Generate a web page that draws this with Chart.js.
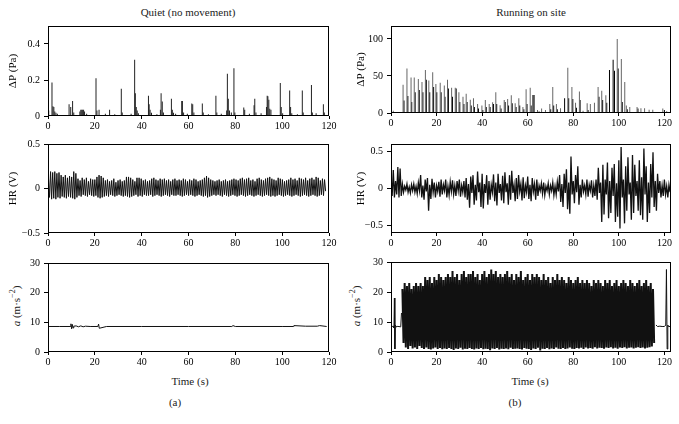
<!DOCTYPE html>
<html>
<head>
<meta charset="utf-8">
<script src="https://cdn.jsdelivr.net/npm/chart.js@4"></script>
<style>
  body { margin: 0; background: #fff; }
  #wrap { position: relative; width: 679px; height: 424px; font-family: 'Liberation Serif', serif; color: #222; }
  canvas { position: absolute; }
  .lbl { position: absolute; font-size: 11px; font-weight: normal; white-space: nowrap; transform: translate(-50%, -50%); }
  .rot { transform: translate(-50%, -50%) rotate(-90deg); }
</style>
</head>
<body>
<div id="wrap">
  <div class="lbl" style="left:188px;top:12px">Quiet (no movement)</div>
  <div class="lbl" style="left:531px;top:12px">Running on site</div>
  <div class="lbl" style="left:190px;top:381px">Time (s)</div>
  <div class="lbl" style="left:530px;top:381px">Time (s)</div>
  <div class="lbl" style="left:175px;top:402px">(a)</div>
  <div class="lbl" style="left:515px;top:402px">(b)</div>
  <div class="lbl rot" style="left:15px;top:306px"><i>a</i> (m·s<sup style="font-size:8px">−2</sup>)</div>
  <div class="lbl rot" style="left:355px;top:306px"><i>a</i> (m·s<sup style="font-size:8px">−2</sup>)</div>
  <canvas id="tl" style="left:0;top:16px" width="341" height="118"></canvas>
  <canvas id="ml" style="left:0;top:134px" width="341" height="117"></canvas>
  <canvas id="bl" style="left:0;top:253px" width="341" height="117"></canvas>
  <canvas id="tr" style="left:340px;top:16px" width="339" height="115"></canvas>
  <canvas id="mr" style="left:340px;top:134px" width="339" height="117"></canvas>
  <canvas id="br" style="left:340px;top:252px" width="339" height="118"></canvas>
</div>
<script>
// ---- Quiet (no movement): pressure spikes [time s, ΔP Pa]
const quietDpSpikes = [
  [0.3,0.03],[1.7,0.186],[2.1,0.054],[2.5,0.05],[2.9,0.025],[3.4,0.018],[4.0,0.012],
  [9.0,0.065],[9.7,0.05],[10.5,0.083],[11.0,0.02],[13.6,0.025],[14.0,0.035],[14.4,0.035],
  [14.8,0.035],[15.2,0.035],[15.6,0.025],[16.5,0.012],[20.5,0.21],[20.9,0.03],[21.8,0.035],
  [24.5,0.012],[26.3,0.035],[28.5,0.01],[31.3,0.152],[31.7,0.02],[35.5,0.012],[37.0,0.313],
  [37.3,0.127],[37.7,0.05],[38.1,0.03],[38.6,0.015],[42.9,0.112],[43.2,0.065],[43.6,0.035],
  [44.2,0.018],[46.5,0.01],[48.0,0.035],[48.3,0.127],[48.8,0.08],[49.3,0.02],[52.7,0.096],
  [53.1,0.035],[53.6,0.018],[54.5,0.012],[57.1,0.083],[57.4,0.083],[57.9,0.02],[59.5,0.012],
  [61.4,0.069],[61.8,0.065],[62.3,0.02],[65.9,0.069],[66.3,0.02],[68.5,0.01],[71.7,0.112],
  [72.1,0.02],[74.0,0.012],[76.3,0.03],[76.6,0.235],[77.0,0.096],[77.5,0.03],[78.3,0.02],
  [79.4,0.265],[79.8,0.02],[83.6,0.047],[84.0,0.035],[86.0,0.012],[88.0,0.06],[88.3,0.096],
  [88.8,0.02],[91.0,0.015],[93.3,0.05],[93.6,0.112],[93.9,0.11],[94.3,0.09],[94.7,0.04],
  [95.2,0.035],[99.2,0.183],[99.6,0.05],[100.2,0.015],[103.2,0.141],[103.6,0.05],[104.1,0.015],
  [106.5,0.01],[108.6,0.141],[109.0,0.02],[112.5,0.172],[112.9,0.02],[114.5,0.015],
  [117.6,0.065],[118.0,0.02]
];
// quiet heart signal: one peak and one trough per beat
const quietHrStart = 0.2, quietHrBeat = 0.9;
const quietHrPeaks = [
  0.12,0.19,0.18,0.19,0.17,0.18,0.15,0.13,0.15,0.12,0.14,0.13,0.19,0.17,
  0.11,0.09,0.12,0.10,0.12,0.08,0.11,0.10,0.10,0.13,0.15,0.14,0.12,
  0.09,0.10,0.08,0.09,0.11,0.07,0.09,0.10,0.08,0.09,0.13,0.13,0.12,
  0.10,0.08,0.12,0.12,0.11,0.09,0.10,0.08,0.09,0.11,0.12,0.10,0.09,0.11,
  0.10,0.11,0.09,0.10,0.08,0.10,0.11,0.09,0.10,0.09,0.11,0.10,0.08,
  0.10,0.09,0.11,0.10,0.08,0.09,0.10,0.12,0.14,0.12,0.10,0.09,0.08,
  0.09,0.10,0.08,0.09,0.10,0.08,0.09,0.10,0.11,0.10,0.09,0.11,0.12,
  0.10,0.11,0.12,0.09,0.10,0.08,0.11,0.12,0.10,0.09,0.11,0.12,0.13,
  0.11,0.10,0.09,0.12,0.11,0.10,0.08,0.09,0.10,0.12,0.10,0.11,0.09,
  0.12,0.11,0.10,0.12,0.09,0.11,0.12,0.10,0.13,0.12,0.09,0.11,0.10
];
const quietHrTroughs = [
  -0.10,-0.12,-0.11,-0.12,-0.10,-0.11,-0.09,-0.10,-0.11,-0.09,-0.10,-0.11,-0.12,-0.10,
  -0.08,-0.09,-0.07,-0.08,-0.09,-0.07,-0.08,-0.09,-0.08,-0.10,-0.11,-0.10,-0.09,
  -0.08,-0.09,-0.07,-0.08,-0.09,-0.08,-0.07,-0.08,-0.09,-0.08,-0.09,-0.10,-0.09,
  -0.08,-0.07,-0.09,-0.08,-0.09,-0.07,-0.08,-0.08,-0.07,-0.09,-0.08,-0.07,-0.08,-0.09,
  -0.08,-0.07,-0.08,-0.09,-0.07,-0.08,-0.08,-0.07,-0.08,-0.09,-0.08,-0.07,-0.08,
  -0.07,-0.08,-0.09,-0.08,-0.07,-0.08,-0.09,-0.08,-0.10,-0.09,-0.08,-0.07,-0.08,
  -0.07,-0.08,-0.09,-0.07,-0.08,-0.09,-0.08,-0.07,-0.08,-0.09,-0.08,-0.07,-0.08,
  -0.09,-0.08,-0.07,-0.08,-0.09,-0.08,-0.07,-0.08,-0.09,-0.08,-0.07,-0.08,-0.09,
  -0.08,-0.09,-0.08,-0.07,-0.08,-0.09,-0.08,-0.07,-0.08,-0.09,-0.08,-0.07,-0.08,
  -0.09,-0.08,-0.07,-0.08,-0.09,-0.08,-0.07,-0.08,-0.09,-0.08,-0.07,-0.08,-0.03
];
// quiet acceleration [time s, a]
const quietAcc = [
  [0,8.6],[5,8.6],[9.5,8.6],[9.8,9.5],[10.1,7.8],[10.4,9.3],[10.7,8.1],[11,8.7],[12,8.8],
  [13,8.5],[14,8.8],[15,8.5],[16,8.7],[18,8.6],[21.3,8.6],[21.6,9.4],[21.9,8.0],[25,8.6],
  [40,8.6],[60,8.6],[78.5,8.6],[79,8.9],[80,8.6],[100,8.6],[104.8,8.6],[105,8.9],[110,8.7],
  [115,8.7],[116,8.9],[119,8.6]
];

// ---- Running on site: pressure spikes [time s, ΔP Pa]
const runDpTall = [
  [1.0,3],[2.5,1.5],[5.3,38],[7.0,60],[8.8,48],[10.2,48],[12.0,46],[13.6,42],[15.1,58],[16.6,44],
  [18.3,55],[19.7,39],[21.6,41],[23.4,37],[24.8,45],[26.6,34],[28.2,34],[29.8,28],[31.6,22],
  [33.0,26],[34.8,18],[36.2,20],[38.0,12],[39.9,10],[41.4,17.5],[43.1,12],[44.6,14.5],[46.0,28],
  [47.9,10.5],[49.7,17.5],[51.2,19],[52.8,24],[54.5,13],[56.1,20],[57.9,8],[59.3,32],[61.1,34],
  [64.3,4],[66.1,6],[67.8,4],[69.7,12],[71.0,35],[72.6,12],[74.4,6.5],[77.6,61],[79.4,35],
  [81.0,14],[82.7,29],[84.3,3],[86.1,13],[87.5,12],[89.3,14],[90.9,35],[92.5,30],[94.3,24],
  [99.3,100],[101.1,73],[102.6,42],[103.3,10],[104.8,8],[108.0,8],[109.7,6.5],[111.3,6.5],
  [113.3,4.4],[114.9,4.4],[119.3,6]
];
const runDpShort = [
  [5.7,17],[7.4,23],[9.1,15],[10.6,28],[12.4,31],[14.0,28],[15.5,45],[17.0,28],[18.7,35],
  [20.1,28],[22.0,28],[23.7,22],[25.2,33],[27.0,22],[28.6,33],[30.2,15],[32.0,12],[33.4,15],
  [35.2,10],[36.6,8],[38.4,6],[40.3,4],[41.8,8],[43.5,8],[45.0,12],[46.4,12],[48.3,6],[50.1,15],
  [51.6,10],[53.2,13],[54.9,8],[56.5,10],[58.3,5],[59.7,12],[61.5,10],[62.3,24.4],[62.8,24.4],
  [65.0,2],[70.1,5],[71.4,10],[73.0,5],[76.2,20],[78.0,20],[79.8,19],[81.4,7],[83.0,17.5],
  [86.5,4],[91.3,22],[92.9,17.5],[94.7,14],[95.9,58],[97.5,72],[98.1,57],[99.7,60],[101.5,15],
  [103.7,5],[108.4,6],[120.0,4],[121.0,2]
];
// running heart signal, one peak/trough per second from t = 0
const runHrStart = 0, runHrStep = 1;
const runHrPeaks = [
  0.15,0.25,0.10,0.29,0.27,0.06,0.03,0.06,0.02,0.05,
  0.06,0.03,0.08,0.18,0.04,0.12,0.14,0.05,0.13,0.08,
  0.04,0.09,0.12,0.05,0.12,0.03,0.09,0.11,0.04,0.10,
  0.12,0.04,0.10,0.14,0.06,0.16,0.18,0.05,0.23,0.08,
  0.20,0.06,0.18,0.10,0.05,0.19,0.08,0.20,0.06,0.17,
  0.22,0.07,0.18,0.24,0.05,0.14,0.18,0.06,0.15,0.04,
  0.16,0.05,0.14,0.06,0.12,0.04,0.07,0.08,0.03,0.07,
  0.04,0.08,0.03,0.09,0.18,0.06,0.20,0.26,0.08,0.43,
  0.10,0.18,0.30,0.05,0.12,0.04,0.12,0.05,0.11,0.04,
  0.12,0.28,0.08,0.32,0.12,0.35,0.10,0.28,0.33,0.07,
  0.38,0.56,0.12,0.30,0.42,0.08,0.45,0.32,0.10,0.38,
  0.15,0.54,0.30,0.08,0.33,0.49,0.10,0.20,0.10,0.04,
  0.12,0.03,0.05
];
const runHrTroughs = [
  -0.10,-0.12,-0.08,-0.12,-0.10,-0.05,-0.02,-0.05,-0.06,-0.03,
  -0.05,-0.07,-0.03,-0.12,-0.15,-0.04,-0.30,-0.14,-0.05,-0.12,
  -0.04,-0.11,-0.08,-0.03,-0.12,-0.09,-0.04,-0.08,-0.10,-0.03,
  -0.11,-0.05,-0.12,-0.15,-0.26,-0.06,-0.22,-0.16,-0.05,-0.25,
  -0.27,-0.06,-0.22,-0.15,-0.05,-0.17,-0.23,-0.06,-0.16,-0.20,
  -0.05,-0.22,-0.15,-0.06,-0.17,-0.14,-0.04,-0.16,-0.13,-0.05,
  -0.14,-0.17,-0.04,-0.15,-0.10,-0.03,-0.07,-0.09,-0.03,-0.08,
  -0.03,-0.09,-0.08,-0.04,-0.18,-0.25,-0.06,-0.28,-0.34,-0.08,
  -0.20,-0.05,-0.22,-0.12,-0.04,-0.08,-0.11,-0.03,-0.12,-0.10,
  -0.15,-0.06,-0.45,-0.35,-0.08,-0.40,-0.33,-0.10,-0.45,-0.38,
  -0.54,-0.12,-0.47,-0.30,-0.08,-0.42,-0.33,-0.10,-0.30,-0.36,
  -0.42,-0.08,-0.45,-0.33,-0.12,-0.25,-0.30,-0.06,-0.12,-0.10,
  -0.08,-0.12,-0.05
];
// running acceleration: still before/after, stepping in between
const runAccPre = [
  [0,8.5],[0.5,8.5],[1.0,8.6],[1.3,8.0],[1.5,18],[1.7,1],[1.9,9],[2.2,8.4],[2.6,8.6],
  [3.0,8.5],[3.5,8.5],[4.0,8.4],[4.3,8.6],[4.6,13]
];
const runAccStart = 5, runAccStep = 1;
const runAccPeaks = [
  21,23,22,23,21,22,23,22,23,22,
  25,24,25,23,25,24,26,25,24,25,
  26,25,27,25,26,24,26,27,25,26,
  26,27,25,26,24,26,27,25,26,27.5,
  26,27,25,26,25,26,27,25,26,24,
  26,25,27,24,25,26,24,26,25,26,
  25,24,26,24,25,23,25,24,26,24,
  25,24,23,25,24,23,24,25,23,24,
  23,24,23,22,24,23,24,23,22,24,
  23,24,22,23,24,22,23,24,23,22,
  24,23,22,23,24,22,23,24,22,23,21
];
const runAccTroughs = [
  3,1.5,1,2,1.2,1.5,1,2,1.3,1,
  1.5,1,0.8,1.2,1.5,1,1.3,0.9,1.2,1,
  1.3,1,0.7,1.2,1,1.4,0.8,1.1,1,1.3,
  1,0.8,1.2,1,1.3,0.9,1.1,1,0.6,1.2,
  1,1.3,0.8,1.1,1,1.2,0.9,1.4,1,1.1,
  1.2,1,0.8,1.3,1.1,1,0.7,1.2,1,1.4,
  0.5,1.1,1,1.3,0.9,1.2,1,1.5,1.1,1,
  1.3,1,1.2,1.5,1.1,1,1.3,1.2,1.4,1,
  1.5,1.2,1.3,1.1,1.6,1.2,1.4,1.3,1.1,1.5,
  1.3,1.6,1.2,1.4,1.1,1.5,1.3,1.6,1.2,1.4,
  1.5,1.2,1.4,1.6,1.3,1.5,1.2,1.4,1.6,1.8,3
];
const runAccPost = [
  [116.3,9],[117,8.5],[118,8.6],[119,8.5],[120,8.5],[120.6,9],[120.9,27.5],[121.2,1],
  [121.5,9],[121.8,8.5],[122.5,8.5]
];

// ---- helpers
Chart.defaults.font.family = "'Liberation Serif', serif";
Chart.defaults.font.size = 10;
Chart.defaults.color = '#000';

const pts = arr => arr.map(p => ({x: p[0], y: p[1]}));
function zigzag(start, step, peaks, troughs) {
  const out = [];
  peaks.forEach((p, i) => {
    out.push({x: start + i * step, y: p});
    out.push({x: start + i * step + step / 2, y: troughs[i]});
  });
  return out;
}
const minus = v => String(v).replace('-', '\u2212');

const frame = {
  id: 'frame',
  afterDraw(c) {
    const a = c.chartArea, ctx = c.ctx;
    ctx.save();
    ctx.strokeStyle = '#000';
    ctx.lineWidth = 1;
    ctx.strokeRect(Math.round(a.left) + 0.5, Math.round(a.top) + 0.5,
      Math.round(a.right - a.left) - 1, Math.round(a.bottom - a.top) - 1);
    ctx.restore();
  }
};

function makeChart(id, type, datasets, o) {
  return new Chart(document.getElementById(id), {
    type: type,
    data: {datasets: datasets},
    plugins: [frame],
    options: {
      responsive: false, animation: false, events: [],
      layout: {padding: {top: 8, right: o.padRight, left: 0, bottom: 0}},
      plugins: {legend: {display: false}, tooltip: {enabled: false}},
      scales: {
        x: {
          type: 'linear', min: 0, max: o.xMax, offset: false,
          border: {display: false},
          grid: {drawOnChartArea: false, drawTicks: true, tickLength: 3, color: '#000', offset: false},
          ticks: {stepSize: 20, includeBounds: false, maxRotation: 0, padding: 1},
          afterFit: s => { s.height = 18; }
        },
        y: {
          min: o.yMin, max: o.yMax,
          border: {display: false},
          grid: {drawOnChartArea: false, drawTicks: true, tickLength: 4, color: '#000'},
          ticks: {stepSize: o.yStep, includeBounds: false, padding: 4, callback: minus},
          title: {display: !!o.yTitle, text: o.yTitle, font: {size: 11}, padding: {top: o.titlePad, bottom: 0}},
          afterFit: s => { s.width = o.yWidth; }
        }
      }
    }
  });
}

const lineDs = (data, color, w) => ({
  type: 'line', data: data, borderColor: color, borderWidth: w || 1,
  pointRadius: 0, tension: 0, fill: false
});
const barDs = (data, color) => ({
  type: 'bar', data: data, backgroundColor: color, barThickness: 1,
  inflateAmount: 0, grouped: false, borderWidth: 0
});

const L = {xMax: 120, padRight: 12, yWidth: 48, titlePad: 7};
const R = {xMax: 122.9, padRight: 8, yWidth: 51, titlePad: 15};

makeChart('tl', 'bar', [barDs(pts(quietDpSpikes), '#222')],
  Object.assign({}, L, {yMin: 0, yMax: 0.5, yStep: 0.2, yTitle: 'ΔP (Pa)'}));
makeChart('ml', 'line', [lineDs(zigzag(quietHrStart, quietHrBeat, quietHrPeaks, quietHrTroughs), '#111')],
  Object.assign({}, L, {yMin: -0.5, yMax: 0.5, yStep: 0.5, yTitle: 'HR (V)'}));
makeChart('bl', 'line', [lineDs(pts(quietAcc), '#111')],
  Object.assign({}, L, {yMin: 0, yMax: 30, yStep: 10, yTitle: ''}));

makeChart('tr', 'bar', [barDs(pts(runDpTall), '#666'), barDs(pts(runDpShort), '#000')],
  Object.assign({}, R, {yMin: 0, yMax: 117.5, yStep: 50, yTitle: 'ΔP (Pa)'}));
makeChart('mr', 'line', [lineDs(zigzag(runHrStart, runHrStep, runHrPeaks, runHrTroughs), '#111', 1.3)],
  Object.assign({}, R, {yMin: -0.6, yMax: 0.6, yStep: 0.5, yTitle: 'HR (V)'}));
makeChart('br', 'line', [
    lineDs(pts(runAccPre), '#111'),
    lineDs(zigzag(runAccStart, runAccStep, runAccPeaks, runAccTroughs), '#111', 2),
    lineDs(pts(runAccPost), '#111')
  ],
  Object.assign({}, R, {yMin: 0, yMax: 30, yStep: 10, yTitle: ''}));
</script>
</body>
</html>
